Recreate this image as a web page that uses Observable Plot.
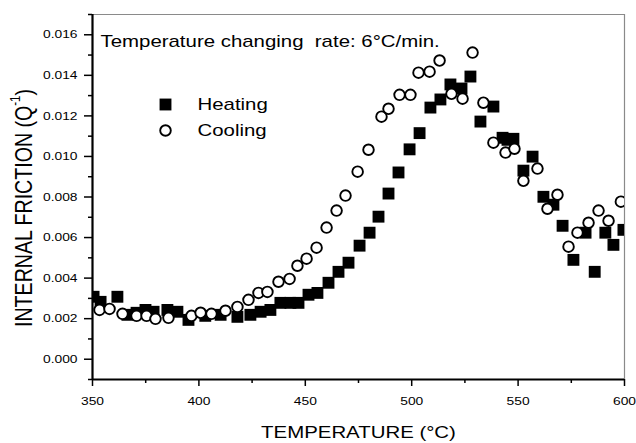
<!DOCTYPE html>
<html>
<head>
<meta charset="utf-8">
<script src="https://cdn.jsdelivr.net/npm/d3@7"></script>
<script src="https://cdn.jsdelivr.net/npm/@observablehq/plot@0.6"></script>
<style>
  html, body { margin: 0; padding: 0; background: #fff; }
  #chart svg { display: block; }
</style>
</head>
<body>
<div id="chart"></div>
<script>
// ---- Data ----
const heatT = [350.5, 353.8, 361.7, 366.4, 370.7, 374.9, 378.7, 385.2, 389.9, 395.1, 403.0, 410.2, 418.1, 424.2, 429.0, 433.6, 438.3, 443.0, 446.8, 451.5, 455.7, 460.9, 465.6, 470.3, 475.5, 480.2, 484.4, 489.1, 493.8, 499.0, 503.7, 508.8, 513.5, 518.2, 523.4, 527.6, 532.3, 538.4, 542.7, 545.0, 547.8, 552.5, 556.8, 561.9, 566.6, 570.9, 576.0, 581.7, 586.0, 591.0, 594.8, 599.5];
const heatQ = [0.00308, 0.00283, 0.00308, 0.00219, 0.00229, 0.00243, 0.00234, 0.00243, 0.00234, 0.00194, 0.00214, 0.00219, 0.00209, 0.00219, 0.00234, 0.00243, 0.00278, 0.00278, 0.00278, 0.00318, 0.00327, 0.00377, 0.00431, 0.00476, 0.00560, 0.00624, 0.00703, 0.00817, 0.00921, 0.01035, 0.01115, 0.01241, 0.01281, 0.01355, 0.01335, 0.01394, 0.01172, 0.01246, 0.01092, 0.01082, 0.01087, 0.00930, 0.00999, 0.00801, 0.00762, 0.00658, 0.00490, 0.00624, 0.00431, 0.00624, 0.00564, 0.00638];

const coolT = [353.3, 358.0, 364.1, 370.7, 375.4, 379.6, 385.7, 396.5, 400.8, 405.9, 412.5, 418.1, 423.3, 428.0, 432.2, 437.4, 442.6, 446.3, 450.6, 455.3, 460.0, 464.7, 468.9, 474.6, 479.7, 485.8, 489.1, 494.3, 499.4, 503.2, 508.4, 513.1, 518.7, 523.9, 528.6, 533.7, 538.4, 544.1, 548.3, 552.5, 559.1, 563.8, 568.5, 573.7, 577.9, 583.1, 587.8, 592.5, 598.3];
const coolQ = [0.00243, 0.00248, 0.00224, 0.00214, 0.00214, 0.00199, 0.00204, 0.00214, 0.00229, 0.00224, 0.00239, 0.00258, 0.00293, 0.00327, 0.00332, 0.00382, 0.00396, 0.00461, 0.00496, 0.00550, 0.00649, 0.00733, 0.00807, 0.00925, 0.01033, 0.01196, 0.01235, 0.01304, 0.01304, 0.01413, 0.01418, 0.01473, 0.01309, 0.01285, 0.01512, 0.01265, 0.01068, 0.01019, 0.01038, 0.00880, 0.00940, 0.00742, 0.00811, 0.00555, 0.00624, 0.00673, 0.00733, 0.00683, 0.00777];

const xTicks = [350, 400, 450, 500, 550, 600];
const xMinor = [375, 425, 475, 525, 575];
const yTicks = [0, 0.002, 0.004, 0.006, 0.008, 0.010, 0.012, 0.014, 0.016];
const yMinor = [-0.001, 0.001, 0.003, 0.005, 0.007, 0.009, 0.011, 0.013, 0.015, 0.017];
const xDomain = [350, 600];
const yDomain = [-0.001, 0.017];

const seriesNames = ["Heating", "Cooling"];
const titleText = "Temperature changing  rate: 6°C/min.";
const xLabel = "TEMPERATURE (°C)";
const yLabelMain = "INTERNAL FRICTION (Q";
const yLabelSup = "-1";

const heating = heatT.map((t, i) => ({T: t, Q: heatQ[i]}));
const cooling = coolT.map((t, i) => ({T: t, Q: coolQ[i]}));

const FONT = "'Liberation Sans', Arial, Helvetica, sans-serif";
const STRETCH = 1.2; // reference glyphs are horizontally wide

const chart = Plot.plot({
  width: 636,
  height: 443,
  marginLeft: 92,
  marginRight: 12,
  marginTop: 14,
  marginBottom: 64,
  style: {fontFamily: FONT, color: "#000", background: "#fff", overflow: "visible"},
  x: {domain: xDomain},
  y: {domain: yDomain},
  marks: [
    // frame: top & right thin grey, left & bottom thick black
    Plot.ruleY([yDomain[1]], {stroke: "#8a8a8a", strokeWidth: 1.2}),
    Plot.ruleX([xDomain[1]], {stroke: "#8a8a8a", strokeWidth: 1.2}),
    // data
    Plot.dot(heating, {x: "T", y: "Q", symbol: "square", r: 6.7, fill: "#000", stroke: "none", clip: true}),
    Plot.dot(cooling, {x: "T", y: "Q", symbol: "circle", r: 5.3, fill: "#fff", stroke: "#000", strokeWidth: 1.9, clip: true}),
    // axes
    Plot.axisX(xTicks, {tickSize: 7, strokeWidth: 1.5, tickPadding: 10, fontSize: 11.5, tickFormat: d3.format("d"), label: null}),
    Plot.axisX(xMinor, {tickSize: 4, strokeWidth: 1.5, tickFormat: () => "", label: null}),
    Plot.axisY(yTicks, {tickSize: 8, strokeWidth: 1.5, tickPadding: 7, fontSize: 11.5, tickFormat: d3.format(".3f"), label: null}),
    Plot.axisY(yMinor, {tickSize: 4, strokeWidth: 1.5, tickFormat: () => "", label: null}),
    Plot.ruleX([xDomain[0]], {stroke: "#000", strokeWidth: 2.2}),
    Plot.ruleY([yDomain[0]], {stroke: "#000", strokeWidth: 2.2}),
    // annotation / title
    Plot.text([titleText], {frameAnchor: "top-left", dx: 8, dy: 27, text: d => d, textAnchor: "start", lineAnchor: "middle", fontSize: 17, fill: "#000"}),
    // legend
    Plot.dot([seriesNames[0]], {frameAnchor: "top-left", dx: 73, dy: 90, symbol: "square", r: 6.7, fill: "#000"}),
    Plot.dot([seriesNames[1]], {frameAnchor: "top-left", dx: 73, dy: 116, symbol: "circle", r: 5.3, fill: "#fff", stroke: "#000", strokeWidth: 1.9}),
    Plot.text([seriesNames[0]], {frameAnchor: "top-left", dx: 105, dy: 90, text: d => d, textAnchor: "start", lineAnchor: "middle", fontSize: 17, fill: "#000"}),
    Plot.text([seriesNames[1]], {frameAnchor: "top-left", dx: 105, dy: 116, text: d => d, textAnchor: "start", lineAnchor: "middle", fontSize: 17, fill: "#000"}),
    // x label
    Plot.text([xLabel], {frameAnchor: "bottom", dy: 53, text: d => d, textAnchor: "middle", lineAnchor: "middle", fontSize: 17, fill: "#000"})
  ]
});

document.getElementById("chart").appendChild(chart);

// widen horizontal glyphs to match the reference's wide lettering (positions untouched)
d3.select(chart).selectAll("text").each(function () {
  if (!this.textContent) return;
  const w = this.getComputedTextLength();
  if (w > 0) {
    this.setAttribute("textLength", (w * STRETCH).toFixed(2));
    this.setAttribute("lengthAdjust", "spacingAndGlyphs");
  }
});

// y label with superscript (rotated; glyph height widened on screen)
const yl = d3.select(chart).append("text")
  .attr("transform", `translate(23, 208) rotate(-90) scale(1, ${STRETCH})`)
  .attr("text-anchor", "middle")
  .attr("dominant-baseline", "central")
  .attr("font-family", FONT)
  .attr("font-size", 19.6)
  .attr("fill", "#000");
yl.append("tspan").text(yLabelMain);
yl.append("tspan").attr("font-size", 11.5).attr("baseline-shift", "super").text(yLabelSup);
yl.append("tspan").text(")");
</script>
</body>
</html>
